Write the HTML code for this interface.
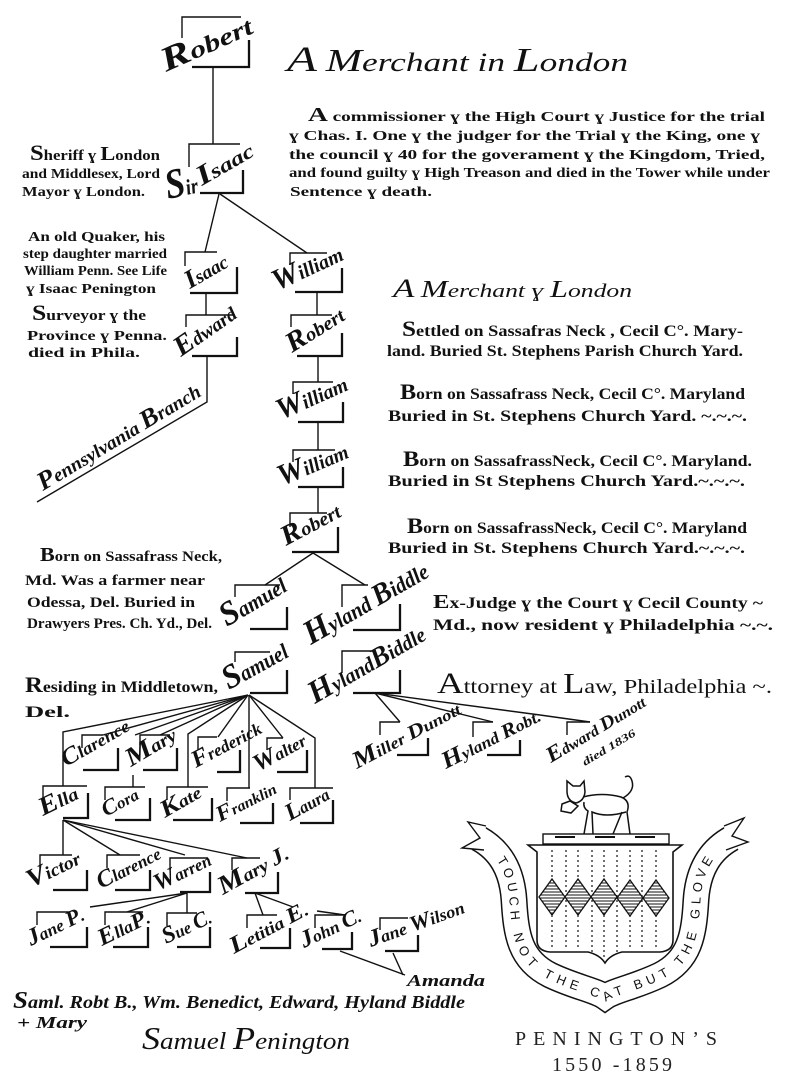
<!DOCTYPE html>
<html><head><meta charset="utf-8"><style>
html,body{margin:0;padding:0;background:#fff;}
svg{display:block;}
.n{font-family:"Liberation Serif",serif;font-style:italic;font-weight:bold;fill:#111;}
.d{font-family:"Liberation Serif",serif;font-weight:bold;fill:#111;}
.l{stroke:#111;stroke-width:1.4;fill:none;}
.b{stroke:#111;stroke-width:2.3;fill:none;}
</style></head><body>
<svg width="802" height="1079" viewBox="0 0 802 1079" xmlns="http://www.w3.org/2000/svg">
<defs>
<pattern id="hatch" width="4" height="3" patternUnits="userSpaceOnUse"><rect width="4" height="3" fill="#fff"/><line x1="0" y1="1" x2="4" y2="1" stroke="#111" stroke-width="1"/></pattern>
</defs>
<rect width="802" height="1079" fill="#fff"/>

<!-- connectors -->
<g class="l">
<path d="M213,67 V144"/>
<path d="M219,194 L205,252"/>
<path d="M220,194 L307,253"/>
<path d="M206,293 V315"/>
<path d="M207,356 V402 L37,502"/>
<path d="M317,292 V315"/>
<path d="M318,356 V382"/>
<path d="M318,422 V450"/>
<path d="M318,487 V513"/>
<path d="M313,553 L265,585"/>
<path d="M313,553 L365,585"/>
<path d="M248,695 L63,732 V786"/>
<path d="M248,695 L103,735"/>
<path d="M248,695 L135,735"/>
<path d="M133,775 V787"/>
<path d="M248,695 L160,735"/>
<path d="M248,695 L188,734 V787"/>
<path d="M248,695 L218,737"/>
<path d="M249,695 V788"/>
<path d="M249,695 L283,738"/>
<path d="M249,695 L315,738 V788"/>
<path d="M375,693 L400,722"/>
<path d="M375,693 L493,722"/>
<path d="M375,693 L540,715 L590,722"/>
<path d="M63,820 V855"/>
<path d="M63,820 L120,855"/>
<path d="M63,820 L185,855"/>
<path d="M63,820 L247,858"/>
<path d="M187,893 L90,907"/>
<path d="M187,893 L127,912"/>
<path d="M187,893 V913"/>
<path d="M255,893 L263,915"/>
<path d="M255,893 L293,907"/>
<path d="M317,911 L345,915"/>
<path d="M340,951 L405,975"/>
<path d="M393,953 L403,975"/>
</g>

<!-- bracket boxes -->
<g class="l">
<path d="M182,38 V17 H241"/><path d="M189,167 V144 H240"/><path d="M185,266 V252 H217"/>
<path d="M186,327 V315 H233"/><path d="M290,265 V253 H327"/><path d="M291,327 V315 H332"/>
<path d="M293,394 V382 H333"/><path d="M293,462 V450 H335"/><path d="M290,527 V513 H327"/>
<path d="M235,597 V585 H280"/><path d="M342,607 V585 H368"/><path d="M235,662 V652 H270"/>
<path d="M342,673 V651 H373"/><path d="M380,735 V722 H400"/><path d="M473,737 V722 H493"/>
<path d="M567,735 V722 H590"/><path d="M82,748 V735 H103"/><path d="M140,745 V735 H170"/>
<path d="M198,750 V737 H217"/><path d="M267,750 V738 H283"/><path d="M43,800 V786 H87"/>
<path d="M105,800 V787 H145"/><path d="M167,800 V787 H208"/><path d="M227,801 V788 H250"/>
<path d="M290,800 V788 H333"/><path d="M40,868 V855 H72"/><path d="M107,868 V855 H140"/>
<path d="M170,870 V858 H208"/><path d="M232,870 V858 H260"/><path d="M37,925 V912 H70"/>
<path d="M105,925 V912 H143"/><path d="M167,926 V913 H197"/><path d="M247,928 V915 H277"/>
<path d="M315,928 V915 H345"/><path d="M380,930 V918 H408"/>
</g>
<g class="b">
<path d="M192,67 H249 V40"/><path d="M200,193 H243 V170"/><path d="M190,293 H237 V267"/>
<path d="M192,356 H237 V337"/><path d="M295,292 H342 V268"/><path d="M297,356 H342 V333"/>
<path d="M298,422 H343 V402"/><path d="M298,487 H343 V467"/><path d="M292,552 H338 V527"/>
<path d="M250,629 H287 V607"/><path d="M353,630 H400 V604"/><path d="M250,693 H287 V670"/>
<path d="M353,693 H400 V670"/><path d="M397,755 H428 V738"/><path d="M487,755 H520 V740"/>
<path d="M83,770 H118 V748"/><path d="M143,770 H177 V748"/><path d="M217,772 H240 V750"/>
<path d="M277,772 H307 V750"/><path d="M63,818 H88 V793"/><path d="M115,820 H150 V798"/>
<path d="M173,820 H212 V798"/><path d="M240,823 H273 V803"/><path d="M300,823 H333 V800"/>
<path d="M53,890 H87 V870"/><path d="M115,890 H150 V870"/><path d="M180,892 H210 V872"/>
<path d="M245,893 H278 V872"/><path d="M50,947 H87 V927"/><path d="M113,947 H148 V927"/>
<path d="M177,947 H210 V927"/><path d="M260,948 H290 V928"/><path d="M322,949 H352 V932"/>
<path d="M385,951 H418 V935"/>
</g>

<!-- names -->
<g class="n">
<text font-size="24" transform="translate(166,72) rotate(-24)" textLength="97" lengthAdjust="spacingAndGlyphs"><tspan font-size="34">R</tspan>obert</text>
<text font-size="22" transform="translate(168,199) rotate(-12)" textLength="32" lengthAdjust="spacingAndGlyphs"><tspan font-size="42">S</tspan>ir</text>
<text font-size="20" transform="translate(202,186) rotate(-30)" textLength="62" lengthAdjust="spacingAndGlyphs"><tspan font-size="28">I</tspan>saac</text>
<text font-size="19" transform="translate(190,289) rotate(-30)" textLength="46" lengthAdjust="spacingAndGlyphs"><tspan font-size="26">I</tspan>saac</text>
<text font-size="19" transform="translate(181,357) rotate(-35)" textLength="70" lengthAdjust="spacingAndGlyphs"><tspan font-size="28">E</tspan>dward</text>
<text font-size="20" transform="translate(277,291) rotate(-25)" textLength="75" lengthAdjust="spacingAndGlyphs"><tspan font-size="30">W</tspan>illiam</text>
<text font-size="19" transform="translate(292,353) rotate(-32)" textLength="64" lengthAdjust="spacingAndGlyphs"><tspan font-size="28">R</tspan>obert</text>
<text font-size="20" transform="translate(281,420) rotate(-24)" textLength="75" lengthAdjust="spacingAndGlyphs"><tspan font-size="30">W</tspan>illiam</text>
<text font-size="20" transform="translate(282,486) rotate(-23)" textLength="74" lengthAdjust="spacingAndGlyphs"><tspan font-size="30">W</tspan>illiam</text>
<text font-size="19" transform="translate(286,546) rotate(-28)" textLength="64" lengthAdjust="spacingAndGlyphs"><tspan font-size="28">R</tspan>obert</text>
<text font-size="22" transform="translate(227,627) rotate(-31)" textLength="72" lengthAdjust="spacingAndGlyphs"><tspan font-size="34">S</tspan>amuel</text>
<text font-size="22" transform="translate(311,645) rotate(-30)" textLength="138" lengthAdjust="spacingAndGlyphs"><tspan font-size="34">H</tspan>yland <tspan font-size="30">B</tspan>iddle</text>
<text font-size="22" transform="translate(229,690) rotate(-29)" textLength="70" lengthAdjust="spacingAndGlyphs"><tspan font-size="34">S</tspan>amuel</text>
<text font-size="21" transform="translate(315,704) rotate(-30)" textLength="130" lengthAdjust="spacingAndGlyphs"><tspan font-size="32">H</tspan>yland<tspan font-size="28">B</tspan>iddle</text>
<text font-size="16" transform="translate(357,769) rotate(-28)" textLength="119" lengthAdjust="spacingAndGlyphs"><tspan font-size="24">M</tspan>iller <tspan font-size="20">D</tspan>unott</text>
<text font-size="16" transform="translate(446,769) rotate(-27)" textLength="108" lengthAdjust="spacingAndGlyphs"><tspan font-size="24">H</tspan>yland <tspan font-size="20">R</tspan>obt.</text>
<text font-size="15" transform="translate(551,763) rotate(-31)" textLength="112" lengthAdjust="spacingAndGlyphs"><tspan font-size="22">E</tspan>dward <tspan font-size="19">D</tspan>unott</text>
<text font-size="11" transform="translate(585,766) rotate(-31)" textLength="60" lengthAdjust="spacingAndGlyphs">died 1836</text>
<text font-size="17" transform="translate(66,767) rotate(-30)" textLength="75" lengthAdjust="spacingAndGlyphs"><tspan font-size="24">C</tspan>larence</text>
<text font-size="18" transform="translate(131,767) rotate(-31)" textLength="55" lengthAdjust="spacingAndGlyphs"><tspan font-size="26">M</tspan>ary</text>
<text font-size="17" transform="translate(196,768) rotate(-28)" textLength="76" lengthAdjust="spacingAndGlyphs"><tspan font-size="24">F</tspan>rederick</text>
<text font-size="17" transform="translate(258,772) rotate(-29)" textLength="57" lengthAdjust="spacingAndGlyphs"><tspan font-size="24">W</tspan>alter</text>
<text font-size="18" transform="translate(43,816) rotate(-26)" textLength="41" lengthAdjust="spacingAndGlyphs"><tspan font-size="26">E</tspan>lla</text>
<text font-size="16" transform="translate(106,817) rotate(-29)" textLength="39" lengthAdjust="spacingAndGlyphs"><tspan font-size="22">C</tspan>ora</text>
<text font-size="17" transform="translate(165,818) rotate(-30)" textLength="44" lengthAdjust="spacingAndGlyphs"><tspan font-size="24">K</tspan>ate</text>
<text font-size="15" transform="translate(220,822) rotate(-27)" textLength="65" lengthAdjust="spacingAndGlyphs"><tspan font-size="22">F</tspan>ranklin</text>
<text font-size="17" transform="translate(290,821) rotate(-29)" textLength="47" lengthAdjust="spacingAndGlyphs"><tspan font-size="24">L</tspan>aura</text>
<text font-size="18" transform="translate(31,888) rotate(-26)" textLength="57" lengthAdjust="spacingAndGlyphs"><tspan font-size="26">V</tspan>ictor</text>
<text font-size="17" transform="translate(101,889) rotate(-27)" textLength="69" lengthAdjust="spacingAndGlyphs"><tspan font-size="24">C</tspan>larence</text>
<text font-size="17" transform="translate(158,891) rotate(-26)" textLength="61" lengthAdjust="spacingAndGlyphs"><tspan font-size="24">W</tspan>arren</text>
<text font-size="18" transform="translate(223,895) rotate(-29)" textLength="77" lengthAdjust="spacingAndGlyphs"><tspan font-size="26">M</tspan>ary <tspan font-size="22">J</tspan>.</text>
<text font-size="17" transform="translate(31,946) rotate(-26)" textLength="61" lengthAdjust="spacingAndGlyphs"><tspan font-size="24">J</tspan>ane <tspan font-size="22">P</tspan>.</text>
<text font-size="17" transform="translate(102,946) rotate(-26)" textLength="55" lengthAdjust="spacingAndGlyphs"><tspan font-size="24">E</tspan>lla<tspan font-size="22">P</tspan>.</text>
<text font-size="17" transform="translate(166,944) rotate(-25)" textLength="52" lengthAdjust="spacingAndGlyphs"><tspan font-size="24">S</tspan>ue <tspan font-size="22">C</tspan>.</text>
<text font-size="17" transform="translate(234,954) rotate(-28)" textLength="86" lengthAdjust="spacingAndGlyphs"><tspan font-size="24">L</tspan>etitia <tspan font-size="22">E</tspan>.</text>
<text font-size="17" transform="translate(304,948) rotate(-25)" textLength="65" lengthAdjust="spacingAndGlyphs"><tspan font-size="24">J</tspan>ohn <tspan font-size="22">C</tspan>.</text>
<text font-size="17" transform="translate(371,947) rotate(-20)" textLength="101" lengthAdjust="spacingAndGlyphs"><tspan font-size="24">J</tspan>ane <tspan font-size="22">W</tspan>ilson</text>
<text font-size="19" transform="translate(43,491) rotate(-31)" textLength="186" lengthAdjust="spacingAndGlyphs"><tspan font-size="26">P</tspan>ennsylvania <tspan font-size="26">B</tspan>ranch</text>
</g>

<!-- descriptive text -->
<g class="d">
<text x="287" y="71" font-size="26" font-style="italic" font-weight="normal" textLength="341" lengthAdjust="spacingAndGlyphs"><tspan font-size="36">A</tspan>  <tspan font-size="32">M</tspan>erchant  in  <tspan font-size="34">L</tspan>ondon</text>

<text x="308" y="121" font-size="14" textLength="457" lengthAdjust="spacingAndGlyphs"><tspan font-size="20">A</tspan> commissioner ɣ the High Court ɣ Justice for the trial</text>
<text x="289" y="140" font-size="14" textLength="471" lengthAdjust="spacingAndGlyphs">ɣ Chas. I. One ɣ the judger for the Trial ɣ the King, one ɣ</text>
<text x="289" y="159" font-size="14" textLength="476" lengthAdjust="spacingAndGlyphs">the council ɣ 40 for the goverament ɣ the Kingdom, Tried,</text>
<text x="289" y="177" font-size="14" textLength="481" lengthAdjust="spacingAndGlyphs">and found guilty ɣ High Treason and died in the Tower while under</text>
<text x="290" y="196" font-size="14" textLength="142" lengthAdjust="spacingAndGlyphs">Sentence ɣ death.</text>

<text x="30" y="160" font-size="15" textLength="130" lengthAdjust="spacingAndGlyphs"><tspan font-size="22">S</tspan>heriff ɣ <tspan font-size="20">L</tspan>ondon</text>
<text x="22" y="178" font-size="14" textLength="138" lengthAdjust="spacingAndGlyphs">and Middlesex, Lord</text>
<text x="22" y="196" font-size="14" textLength="123" lengthAdjust="spacingAndGlyphs">Mayor ɣ London.</text>

<text x="28" y="241" font-size="14" textLength="137" lengthAdjust="spacingAndGlyphs">An old Quaker, his</text>
<text x="23" y="258" font-size="14" textLength="144" lengthAdjust="spacingAndGlyphs">step daughter married</text>
<text x="24" y="275" font-size="14" textLength="143" lengthAdjust="spacingAndGlyphs">William Penn. See Life</text>
<text x="26" y="293" font-size="14" textLength="130" lengthAdjust="spacingAndGlyphs">ɣ Isaac Penington</text>

<text x="32" y="320" font-size="15" textLength="114" lengthAdjust="spacingAndGlyphs"><tspan font-size="22">S</tspan>urveyor ɣ the</text>
<text x="27" y="340" font-size="14" textLength="140" lengthAdjust="spacingAndGlyphs">Province ɣ Penna.</text>
<text x="28" y="357" font-size="14" textLength="112" lengthAdjust="spacingAndGlyphs">died  in  Phila.</text>

<text x="393" y="297" font-size="19" font-weight="normal" font-style="italic" textLength="239" lengthAdjust="spacingAndGlyphs"><tspan font-size="26">A</tspan>  <tspan font-size="24">M</tspan>erchant  ɣ  <tspan font-size="24">L</tspan>ondon</text>

<text x="402" y="336" font-size="16" textLength="341" lengthAdjust="spacingAndGlyphs"><tspan font-size="22">S</tspan>ettled on  Sassafras Neck , Cecil C°. Mary-</text>
<text x="387" y="356" font-size="16" textLength="356" lengthAdjust="spacingAndGlyphs">land.  Buried  St. Stephens Parish Church Yard.</text>
<text x="400" y="399" font-size="16" textLength="345" lengthAdjust="spacingAndGlyphs"><tspan font-size="22">B</tspan>orn on Sassafrass Neck, Cecil C°. Maryland</text>
<text x="388" y="421" font-size="16" textLength="359" lengthAdjust="spacingAndGlyphs">Buried in St. Stephens  Church Yard. ~.~.~.</text>
<text x="403" y="466" font-size="16" textLength="349" lengthAdjust="spacingAndGlyphs"><tspan font-size="22">B</tspan>orn on SassafrassNeck, Cecil C°. Maryland.</text>
<text x="388" y="486" font-size="16" textLength="357" lengthAdjust="spacingAndGlyphs">Buried in St Stephens Church Yard.~.~.~.</text>
<text x="407" y="533" font-size="16" textLength="340" lengthAdjust="spacingAndGlyphs"><tspan font-size="22">B</tspan>orn on SassafrassNeck, Cecil C°. Maryland</text>
<text x="388" y="553" font-size="16" textLength="357" lengthAdjust="spacingAndGlyphs">Buried in St. Stephens Church Yard.~.~.~.</text>

<text x="40" y="561" font-size="15" textLength="182" lengthAdjust="spacingAndGlyphs"><tspan font-size="20">B</tspan>orn on Sassafrass Neck,</text>
<text x="25" y="585" font-size="15" textLength="180" lengthAdjust="spacingAndGlyphs">Md. Was a farmer near</text>
<text x="27" y="607" font-size="15" textLength="168" lengthAdjust="spacingAndGlyphs">Odessa, Del. Buried in</text>
<text x="27" y="628" font-size="15" textLength="185" lengthAdjust="spacingAndGlyphs">Drawyers Pres. Ch. Yd., Del.</text>

<text x="433" y="608" font-size="16" textLength="330" lengthAdjust="spacingAndGlyphs"><tspan font-size="20">E</tspan>x-Judge ɣ the  Court  ɣ Cecil County ~</text>
<text x="433" y="630" font-size="16" textLength="340" lengthAdjust="spacingAndGlyphs">Md., now resident ɣ Philadelphia ~.~.</text>

<text x="25" y="692" font-size="16" textLength="193" lengthAdjust="spacingAndGlyphs"><tspan font-size="22">R</tspan>esiding in Middletown,</text>
<text x="25" y="717" font-size="16" textLength="45" lengthAdjust="spacingAndGlyphs">Del.</text>

<text x="437" y="693" font-size="20" font-weight="normal" textLength="335" lengthAdjust="spacingAndGlyphs"><tspan font-size="30">A</tspan>ttorney  at  <tspan font-size="28">L</tspan>aw,  Philadelphia ~.</text>

<text x="407" y="986" font-size="17" font-style="italic" textLength="78" lengthAdjust="spacingAndGlyphs">Amanda</text>
<text x="13" y="1008" font-size="18" font-style="italic" textLength="452" lengthAdjust="spacingAndGlyphs"><tspan font-size="24">S</tspan>aml. Robt B., Wm. Benedict, Edward, Hyland Biddle</text>
<text x="17" y="1028" font-size="17" font-style="italic" textLength="70" lengthAdjust="spacingAndGlyphs">+ Mary</text>
<text x="142" y="1049" font-size="24" font-style="italic" font-weight="normal" textLength="208" lengthAdjust="spacingAndGlyphs"><tspan font-size="32">S</tspan>amuel  <tspan font-size="32">P</tspan>enington</text>
</g>

<!-- crest -->
<g>
<!-- ribbon -->
<path id="rib" d="M478,838 C500,850 512,870 514,900 C516,935 520,960 550,975 C575,987 595,990 605,997 C615,990 635,987 660,975 C690,960 694,935 696,900 C698,870 710,850 732,838" fill="none" stroke="#111" stroke-width="27"/>
<path d="M478,838 C500,850 512,870 514,900 C516,935 520,960 550,975 C575,987 595,990 605,997 C615,990 635,987 660,975 C690,960 694,935 696,900 C698,870 710,850 732,838" fill="none" stroke="#fff" stroke-width="24"/>
<!-- fork ends -->
<path d="M486,826 L468,822 L480,838 L462,848 L484,850" fill="#fff" stroke="#111" stroke-width="1.4"/>
<path d="M724,826 L744,818 L732,836 L748,842 L726,850" fill="#fff" stroke="#111" stroke-width="1.4"/>
<text font-family="Liberation Sans, sans-serif" font-size="13" fill="#111"><textPath href="#rib" startOffset="30" textLength="385" lengthAdjust="spacing"><tspan dy="4.5">TOUCH NOT THE CAT BUT THE GLOVE</tspan></textPath></text>

<!-- wreath bar -->
<rect x="543" y="834" width="126" height="10" fill="#fff" stroke="#111" stroke-width="1.4"/>
<path d="M555,837 H575 M595,837 H615 M635,837 H655" stroke="#111" stroke-width="2"/>

<!-- shield -->
<path d="M528,845 L682,845 L673,852 L673,940 Q673,951 660,952 L622,952 Q610,955 605,963 Q600,955 588,952 L550,952 Q537,951 537,940 L537,852 Z" fill="#fff" stroke="#111" stroke-width="1.6"/>
<g stroke="#111" stroke-width="1.2" stroke-dasharray="2,3">
<path d="M552,850 V950 M566,850 V950 M578,850 V950 M592,850 V952 M604,850 V958 M617,850 V952 M630,850 V950 M642,850 V950 M656,850 V950"/>
</g>
<g fill="url(#hatch)" stroke="#111" stroke-width="1.3">
<path d="M552,879 L565,897 L552,915 L539,897 Z"/>
<path d="M578,879 L591,897 L578,915 L565,897 Z"/>
<path d="M604,879 L617,897 L604,915 L591,897 Z"/>
<path d="M630,880 L643,898 L630,916 L617,898 Z"/>
<path d="M656,880 L669,898 L656,916 L643,898 Z"/>
</g>

<!-- cat -->
<g fill="none" stroke="#111" stroke-width="1.5">
<path d="M567,791 L567,781 L573,786 L580,786 L584,781 L585,792 Q584,801 576,803 Q567,801 567,791 Z"/>
<path d="M583,797 Q602,792 621,797 Q631,801 627,812 L630,834"/>
<path d="M622,812 L613,834"/>
<path d="M626,812 Q606,818 592,812 L593,834"/>
<path d="M584,802 Q583,808 588,811 L584,834"/>
<path d="M623,798 Q635,791 632,781 Q630,774 625,777"/>
<path d="M562,804 L570,801 L578,806 L571,813 L561,811 Z"/>
</g>

<text x="515" y="1045" font-family="Liberation Serif, serif" font-size="20" fill="#222" textLength="202" lengthAdjust="spacing">PENINGTON’S</text>
<text x="552" y="1071" font-family="Liberation Serif, serif" font-size="20" fill="#222" textLength="120" lengthAdjust="spacing">1550 -1859</text>
</g>
</svg>
</body></html>
